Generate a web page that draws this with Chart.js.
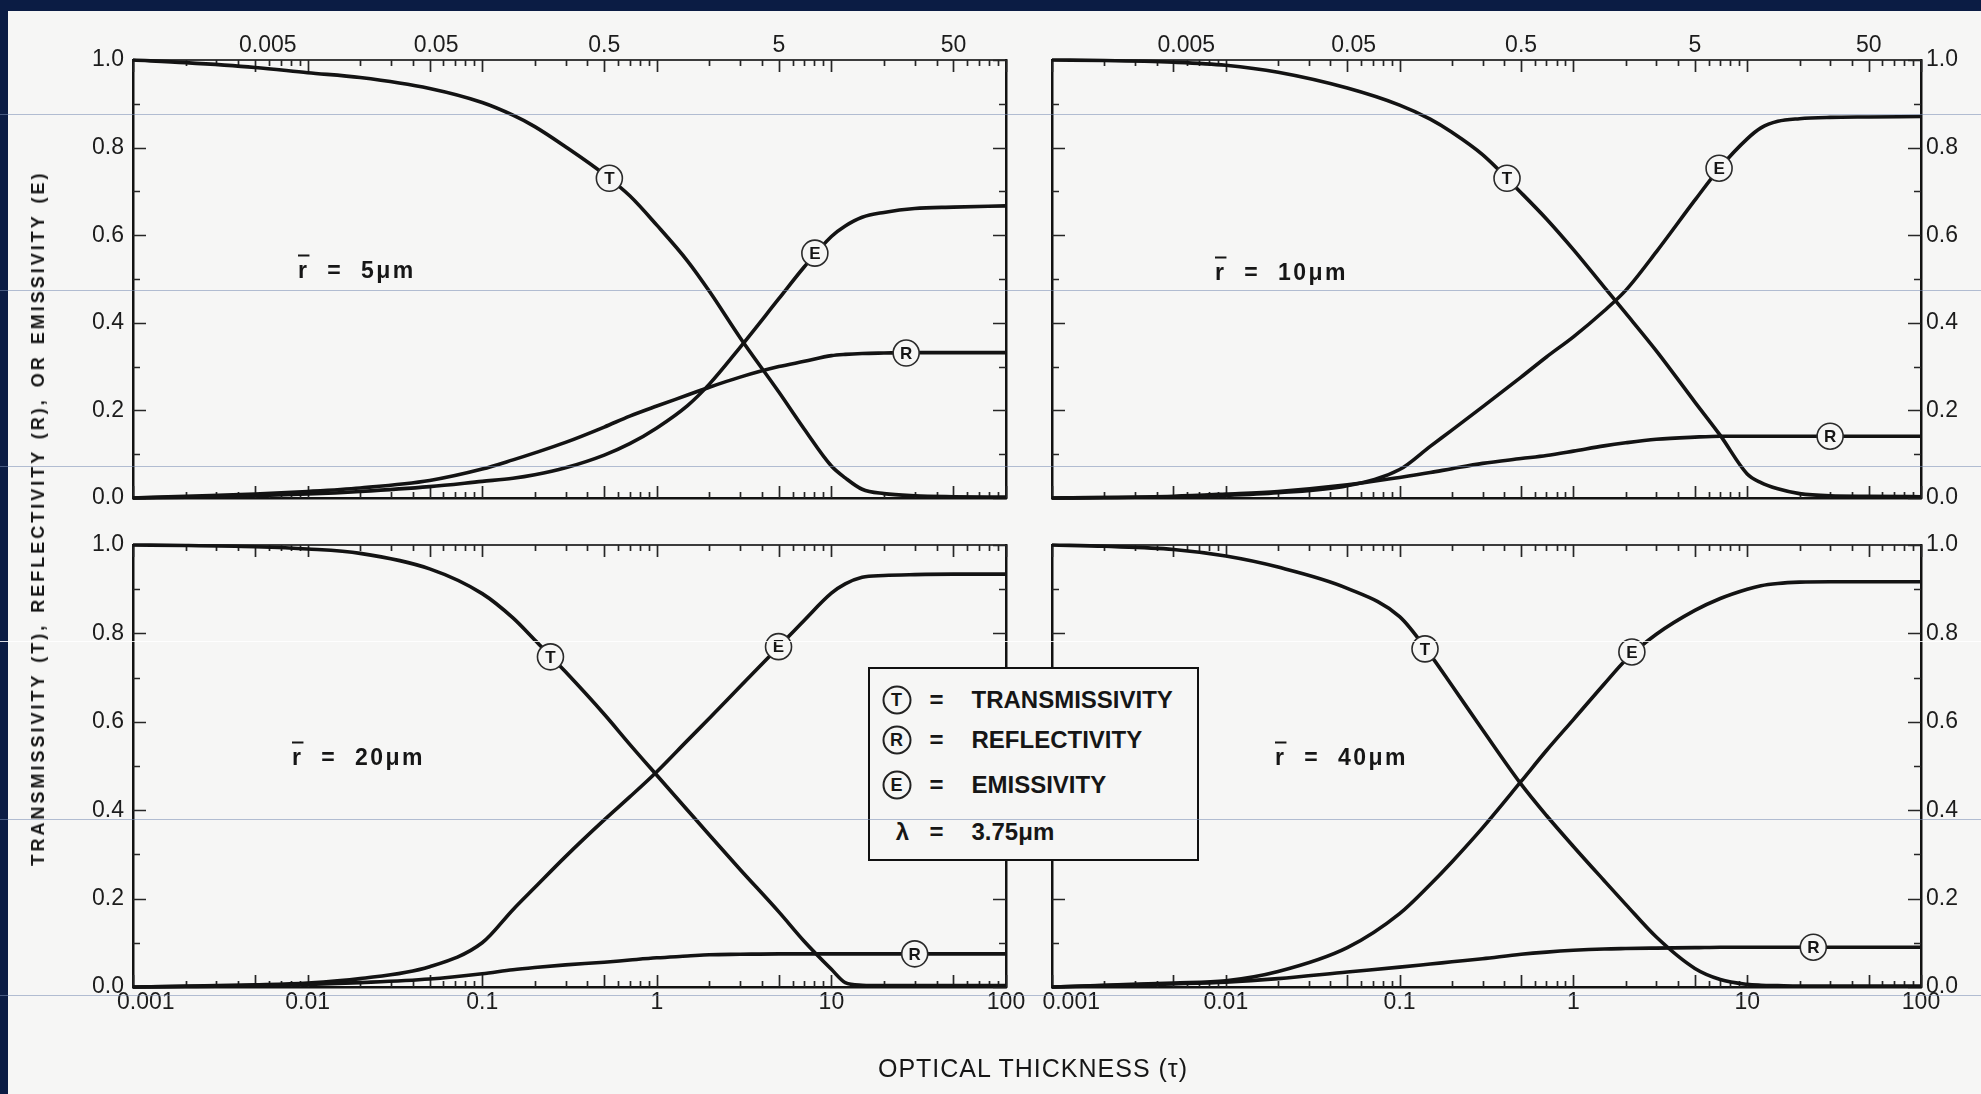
<!DOCTYPE html>
<html>
<head>
<meta charset="utf-8">
<title>Transmissivity, reflectivity and emissivity versus optical thickness</title>
<script src="https://cdn.jsdelivr.net/npm/chart.js@4.4.1/dist/chart.umd.min.js"></script>
<style>
  html, body { margin:0; padding:0; width:1981px; height:1094px; overflow:hidden; background:#0b1c44; }
  #paper { position:absolute; left:8px; top:11px; width:1973px; height:1083px; background:#f6f6f5; }
  canvas.panel { position:absolute; left:0; top:0; }
  .t { position:absolute; font-family:"Liberation Sans", Arial, sans-serif; color:#161616; white-space:pre; line-height:1; }
  .radius { font-size:23px; font-weight:bold; letter-spacing:2.5px; transform:translateY(-50%); }
  .rbar { text-decoration:overline; text-decoration-thickness:2px; }
  #ytitle { left:38px; top:518px; font-size:18px; font-weight:bold; letter-spacing:3px; word-spacing:2px; transform:translate(-50%,-50%) rotate(-90deg); }
  #xtitle { left:1033px; top:1068px; font-size:25px; letter-spacing:1px; transform:translate(-50%,-50%); }
  #legend { position:absolute; left:868px; top:667px; width:327px; height:190px; border:2.5px solid #111; background:#f6f6f5; font-family:"Liberation Sans", Arial, sans-serif; color:#161616; }
  #legend div { position:absolute; white-space:pre; line-height:1; }
  #legend .sym { width:25px; height:25px; border:2px solid #222; border-radius:50%; font-size:18px; font-weight:bold; text-align:center; line-height:25px; transform:translate(-50%,-50%); }
  #legend .eq { font-size:24px; font-weight:bold; transform:translate(-50%,-50%); }
  #legend .lab { font-size:24px; font-weight:bold; transform:translateY(-50%); }
  .hl { position:absolute; left:0; width:1981px; height:1px; background:rgba(120,140,178,0.55); }
</style>
</head>
<body>
<div id="paper"></div>
<canvas id="c1" class="panel" width="1981" height="1094"></canvas>
<canvas id="c2" class="panel" width="1981" height="1094"></canvas>
<canvas id="c3" class="panel" width="1981" height="1094"></canvas>
<canvas id="c4" class="panel" width="1981" height="1094"></canvas>

<div class="t radius" style="left:298px; top:270px;"><span class="rbar">r</span>  =  5μm</div>
<div class="t radius" style="left:1215px; top:272px;"><span class="rbar">r</span>  =  10μm</div>
<div class="t radius" style="left:292px; top:757px;"><span class="rbar">r</span>  =  20μm</div>
<div class="t radius" style="left:1275px; top:757px;"><span class="rbar">r</span>  =  40μm</div>

<div id="legend">
  <div class="sym" style="left:26.5px; top:30.5px;">T</div>
  <div class="eq"  style="left:66.5px; top:30.5px;">=</div>
  <div class="lab" style="left:101.5px; top:30.5px;">TRANSMISSIVITY</div>
  <div class="sym" style="left:26.5px; top:70.5px;">R</div>
  <div class="eq"  style="left:66.5px; top:70.5px;">=</div>
  <div class="lab" style="left:101.5px; top:70.5px;">REFLECTIVITY</div>
  <div class="sym" style="left:26.5px; top:115.5px;">E</div>
  <div class="eq"  style="left:66.5px; top:115.5px;">=</div>
  <div class="lab" style="left:101.5px; top:115.5px;">EMISSIVITY</div>
  <div class="eq"  style="left:32.5px; top:162.5px;">λ</div>
  <div class="eq"  style="left:66.5px; top:162.5px;">=</div>
  <div class="lab" style="left:101.5px; top:162.5px;">3.75μm</div>
</div>

<div id="ytitle" class="t">TRANSMISSIVITY (T), REFLECTIVITY (R), OR EMISSIVITY (E)</div>
<div id="xtitle" class="t">OPTICAL THICKNESS (τ)</div>

<div class="hl" style="top:114px;"></div>
<div class="hl" style="top:290px;"></div>
<div class="hl" style="top:466px;"></div>
<div class="hl" style="top:641px; background:rgba(255,255,255,0.85);"></div>
<div class="hl" style="top:819px;"></div>
<div class="hl" style="top:995px;"></div>

<script>
// ---------- data ----------
const tau = [0.001, 0.002, 0.005, 0.01, 0.02, 0.05, 0.1, 0.15, 0.2, 0.3, 0.5, 0.7, 1, 1.5, 2, 3, 5, 7, 10, 12, 15, 20, 30, 50, 100];

// r = 5 um
const trans5 = [1.000, 0.994, 0.983, 0.971, 0.960, 0.935, 0.903, 0.874, 0.848, 0.802, 0.739, 0.690, 0.623, 0.541, 0.472, 0.366, 0.242, 0.157, 0.073, 0.046, 0.020, 0.010, 0.005, 0.003, 0.002];
const refl5  = [0.000, 0.004, 0.009, 0.015, 0.023, 0.040, 0.066, 0.087, 0.103, 0.127, 0.162, 0.187, 0.210, 0.235, 0.253, 0.276, 0.300, 0.312, 0.325, 0.328, 0.330, 0.331, 0.332, 0.332, 0.332];
const emis5  = [0.000, 0.002, 0.005, 0.009, 0.015, 0.026, 0.038, 0.045, 0.053, 0.069, 0.098, 0.124, 0.160, 0.211, 0.260, 0.344, 0.455, 0.528, 0.597, 0.621, 0.641, 0.652, 0.661, 0.664, 0.667];

// r = 10 um
const trans10 = [1.000, 0.999, 0.995, 0.988, 0.972, 0.936, 0.897, 0.865, 0.835, 0.784, 0.697, 0.637, 0.567, 0.482, 0.422, 0.336, 0.219, 0.143, 0.055, 0.035, 0.021, 0.010, 0.005, 0.004, 0.003];
const refl10  = [0.000, 0.001, 0.004, 0.009, 0.015, 0.030, 0.047, 0.058, 0.067, 0.079, 0.090, 0.097, 0.107, 0.119, 0.126, 0.134, 0.139, 0.141, 0.141, 0.141, 0.141, 0.141, 0.141, 0.141, 0.141];
const emis10  = [0.000, 0.001, 0.003, 0.006, 0.012, 0.028, 0.065, 0.118, 0.155, 0.208, 0.276, 0.322, 0.368, 0.427, 0.474, 0.562, 0.680, 0.755, 0.820, 0.845, 0.860, 0.866, 0.869, 0.870, 0.871];

// r = 20 um
const trans20 = [1.000, 0.999, 0.996, 0.991, 0.981, 0.946, 0.890, 0.835, 0.785, 0.713, 0.617, 0.549, 0.479, 0.400, 0.344, 0.266, 0.170, 0.103, 0.040, 0.010, 0.004, 0.003, 0.003, 0.003, 0.003];
const refl20  = [0.000, 0.001, 0.003, 0.006, 0.010, 0.018, 0.030, 0.039, 0.044, 0.050, 0.056, 0.061, 0.066, 0.070, 0.073, 0.074, 0.075, 0.075, 0.075, 0.075, 0.075, 0.075, 0.075, 0.075, 0.075];
const emis20  = [0.000, 0.002, 0.005, 0.009, 0.019, 0.046, 0.100, 0.175, 0.225, 0.295, 0.378, 0.430, 0.487, 0.558, 0.608, 0.680, 0.770, 0.830, 0.891, 0.912, 0.927, 0.931, 0.933, 0.934, 0.934];

// r = 40 um
const trans40 = [1.000, 0.997, 0.990, 0.975, 0.950, 0.902, 0.838, 0.752, 0.682, 0.582, 0.459, 0.388, 0.318, 0.241, 0.187, 0.113, 0.042, 0.017, 0.006, 0.004, 0.003, 0.002, 0.002, 0.002, 0.002];
const refl40  = [0.000, 0.003, 0.007, 0.011, 0.019, 0.034, 0.045, 0.052, 0.057, 0.064, 0.074, 0.079, 0.083, 0.086, 0.087, 0.088, 0.089, 0.090, 0.090, 0.090, 0.090, 0.090, 0.090, 0.090, 0.090];
const emis40  = [0.000, 0.004, 0.009, 0.014, 0.035, 0.089, 0.166, 0.232, 0.283, 0.360, 0.465, 0.535, 0.605, 0.685, 0.740, 0.798, 0.852, 0.879, 0.900, 0.908, 0.913, 0.916, 0.917, 0.917, 0.917];

// circled curve labels [tau, value]
const markT5 = [0.535, 0.730],  markE5 = [8.04, 0.559],  markR5 = [26.8, 0.331];
const markT10 = [0.415, 0.730], markE10 = [6.89, 0.753], markR10 = [30, 0.141];
const markT20 = [0.246, 0.747], markE20 = [4.98, 0.770], markR20 = [30, 0.075];
const markT40 = [0.140, 0.765], markE40 = [2.17, 0.758], markR40 = [24, 0.090];

// tick labels
const bottomTickValues = [0.001, 0.01, 0.1, 1, 10, 100];
const topTickValues = [0.005, 0.05, 0.5, 5, 50];
const yTickValues = [0, 0.2, 0.4, 0.6, 0.8, 1.0];

// ---------- drawing ----------
const W = 1981, H = 1094, AX = 40;
const FONT = { family: '"Liberation Sans", Arial, sans-serif', size: 23 };
const INK = '#131313';
const FIG = '\u2007'; // figure space, used to nudge crowded edge labels

const logTickPositions = [];
for (let e = -3; e <= 1; e++) {
  for (let k = 1; k <= 9; k++) logTickPositions.push({ v: +(k * Math.pow(10, e)).toPrecision(3), major: k === 1 || k === 5 });
}
logTickPositions.push({ v: 100, major: true });
const linTickPositions = [];
for (let i = 0; i <= 10; i++) linTickPositions.push({ v: i / 10, major: i % 2 === 0 });

const inwardTicks = {
  id: 'inwardTicks',
  beforeDatasetsDraw(chart) {
    const { ctx, chartArea: a } = chart;
    const xs = chart.scales.x, ys = chart.scales.y;
    ctx.save();
    ctx.strokeStyle = '#262626';
    ctx.lineWidth = 1.7;
    ctx.beginPath();
    for (const t of logTickPositions) {
      const px = Math.round(xs.getPixelForValue(t.v)) + 0.5;
      const len = t.major ? 12 : 6;
      ctx.moveTo(px, a.bottom); ctx.lineTo(px, a.bottom - len);
      ctx.moveTo(px, a.top); ctx.lineTo(px, a.top + len);
    }
    for (const t of linTickPositions) {
      const py = Math.round(ys.getPixelForValue(t.v)) + 0.5;
      const len = t.major ? 13 : 7;
      ctx.moveTo(a.left, py); ctx.lineTo(a.left + len, py);
      ctx.moveTo(a.right, py); ctx.lineTo(a.right - len, py);
    }
    ctx.stroke();
    ctx.restore();
  }
};

const letterPlugin = {
  id: 'curveLetters',
  afterDatasetsDraw(chart) {
    const ctx = chart.ctx;
    chart.data.datasets.forEach((ds, i) => {
      if (!ds.letter) return;
      chart.getDatasetMeta(i).data.forEach(el => {
        ctx.save();
        ctx.font = 'bold 17px "Liberation Sans", Arial, sans-serif';
        ctx.fillStyle = '#151515';
        ctx.textAlign = 'center';
        ctx.textBaseline = 'middle';
        ctx.fillText(ds.letter, el.x, el.y + 1);
        ctx.restore();
      });
    });
  }
};

function xAxis(pos, values, show, pad, labelFn) {
  return {
    type: 'logarithmic', position: pos, min: 0.001, max: 100,
    afterBuildTicks: s => { s.ticks = values.map(v => ({ value: v })); },
    afterFit: s => { s.height = AX; },
    ticks: { display: show, autoSkip: false, maxRotation: 0, minRotation: 0, padding: pad, font: FONT, color: '#1c1c1c', callback: labelFn },
    grid: { drawOnChartArea: false, drawTicks: false },
    border: { display: true, color: pos === 'top' ? '#3c3c3c' : '#121212', width: pos === 'top' ? 2 : 2.5 }
  };
}
function yAxis(pos, show, pad) {
  return {
    type: 'linear', position: pos, min: 0, max: 1,
    afterBuildTicks: s => { s.ticks = yTickValues.map(v => ({ value: v })); },
    afterFit: s => { s.width = AX; },
    ticks: { display: show, padding: pad, font: FONT, color: '#1c1c1c', callback: v => Number(v).toFixed(1) },
    grid: { drawOnChartArea: false, drawTicks: false },
    border: { display: true, color: '#121212', width: 2.5 }
  };
}
function curve(values) {
  return {
    data: tau.map((x, i) => ({ x: x, y: values[i] })),
    xAxisID: 'x', yAxisID: 'y',
    borderColor: INK, borderWidth: 3.6, pointRadius: 0, fill: false,
    cubicInterpolationMode: 'monotone', clip: 6, order: 1
  };
}
function mark(letter, m) {
  return {
    letter: letter,
    data: [{ x: m[0], y: m[1] }],
    xAxisID: 'x', yAxisID: 'y',
    showLine: false, pointRadius: 13, pointHoverRadius: 13,
    pointBackgroundColor: '#f6f6f5', pointBorderColor: '#2a2a2a', pointBorderWidth: 1.6,
    clip: false, order: 0
  };
}
// label formatters: first labels are nudged right as in the original figure
const topLabel = v => (v === 0.005 ? FIG + FIG : v === 0.05 ? FIG : '') + String(v);
const bottomLabelLeft = v => (v === 0.001 ? FIG + FIG : '') + String(v);
const bottomLabelRight = v => (v === 0.001 ? FIG + FIG + FIG : '') + String(v);

const panels = [
  { id: 'c1', T: trans5,  R: refl5,  E: emis5,  mT: markT5,  mR: markR5,  mE: markE5,  box: { l: 133,  r: 1006, t: 60,  b: 498 }, top: true,  bottom: false, left: true,  right: false, bl: bottomLabelLeft },
  { id: 'c2', T: trans10, R: refl10, E: emis10, mT: markT10, mR: markR10, mE: markE10, box: { l: 1052, r: 1921, t: 60,  b: 498 }, top: true,  bottom: false, left: false, right: true,  bl: bottomLabelRight },
  { id: 'c3', T: trans20, R: refl20, E: emis20, mT: markT20, mR: markR20, mE: markE20, box: { l: 133,  r: 1006, t: 545, b: 987 }, top: false, bottom: true,  left: true,  right: false, bl: bottomLabelLeft },
  { id: 'c4', T: trans40, R: refl40, E: emis40, mT: markT40, mR: markR40, mE: markE40, box: { l: 1052, r: 1921, t: 545, b: 987 }, top: false, bottom: true,  left: false, right: true,  bl: bottomLabelRight }
];

panels.forEach(p => {
  new Chart(document.getElementById(p.id), {
    type: 'line',
    data: {
      datasets: [
        curve(p.T), curve(p.R), curve(p.E),
        mark('T', p.mT), mark('R', p.mR), mark('E', p.mE)
      ]
    },
    options: {
      responsive: false, animation: false, devicePixelRatio: 1, events: [],
      layout: {
        autoPadding: false,
        padding: { left: p.box.l - AX, top: p.box.t - AX, right: W - p.box.r - AX, bottom: H - p.box.b - AX }
      },
      plugins: { legend: { display: false }, tooltip: { enabled: false }, title: { display: false } },
      scales: {
        x: xAxis('bottom', bottomTickValues, p.bottom, 2, p.bl),
        xTop: xAxis('top', topTickValues, p.top, 1, topLabel),
        y: yAxis('left', p.left, 9),
        yRight: yAxis('right', p.right, 5)
      }
    },
    plugins: [inwardTicks, letterPlugin]
  });
});
</script>
</body>
</html>
